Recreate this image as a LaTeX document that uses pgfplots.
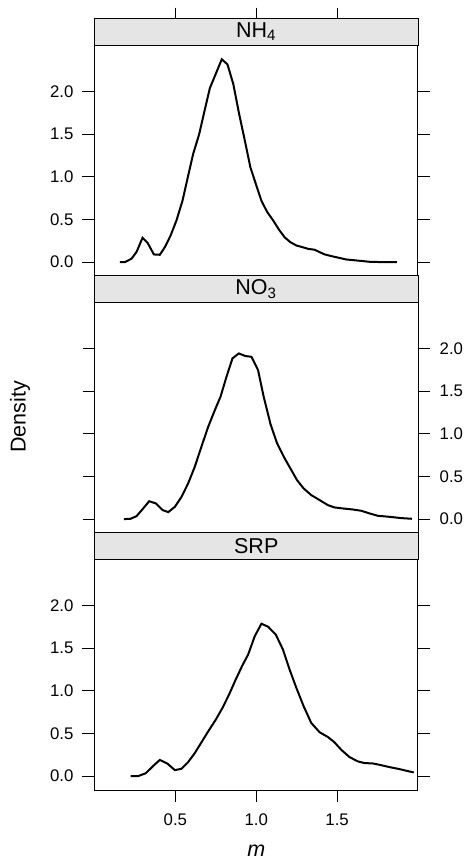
\documentclass[border=0pt]{standalone}
\usepackage{pgfplots}
\pgfplotsset{compat=1.18}
\usepackage{fontspec}
\setmainfont{Liberation Sans}
\definecolor{stripgray}{HTML}{E5E5E5}

\pgfplotsset{
  panel/.style={
    scale only axis, width=161.75pt, height=115.4pt, anchor=south west,
    xmin=0, xmax=2, ymin=-0.163, ymax=2.545,
    ytick={0,0.5,1,1.5,2},
    tick align=outside, major tick length=6pt,
    axis line style={line width=0.5pt},
    every tick/.style={black, line width=0.5pt},
    tick label style={font=\fontsize{8.4}{9.5}\selectfont},
    xticklabel style={yshift=-2.3pt},
    /pgf/number format/fixed, /pgf/number format/fixed zerofill,
    /pgf/number format/precision=1, /pgf/number format/assume math mode=true,
  },
  strip/.style={
    scale only axis, width=161.75pt, height=13.25pt, anchor=south west,
    xmin=0, xmax=2, ymin=0, ymax=1, ytick=\empty, xtick=\empty,
    axis line style={line width=0.5pt},
    axis background/.style={fill=stripgray},
  },
  curve/.style={black, line width=1pt, no marks},
}

\begin{document}
\begin{tikzpicture}
\useasboundingbox (0,0) rectangle (232pt,-429pt);

% ---- NH4 ----
\begin{axis}[panel, at={(47.25pt,-138pt)}, xtick=\empty, ytick pos=both, yticklabel pos=left,
  yticklabel style={xshift=-1pt}]
\addplot[curve] coordinates {
(0.157,0) (0.188,0) (0.229,0.04) (0.26,0.12) (0.297,0.285) (0.328,0.227)
(0.367,0.09) (0.404,0.086) (0.435,0.176) (0.47,0.31) (0.507,0.49) (0.544,0.72)
(0.575,0.98) (0.61,1.27) (0.647,1.50) (0.676,1.74) (0.713,2.04) (0.75,2.21)
(0.787,2.38) (0.822,2.32) (0.858,2.09) (0.894,1.74) (0.929,1.43) (0.964,1.11)
(0.997,0.92) (1.032,0.72) (1.067,0.59) (1.104,0.49) (1.141,0.38) (1.176,0.29)
(1.211,0.234) (1.248,0.195) (1.285,0.176) (1.32,0.156) (1.361,0.145) (1.392,0.117)
(1.423,0.09) (1.475,0.066) (1.556,0.031) (1.638,0.016) (1.70,0.004) (1.78,0) (1.87,0)
};
\end{axis}
\begin{axis}[strip, at={(47.25pt,-22.6pt)}, xtick={0.5,1,1.5}, xticklabels={},
  xtick pos=right, tick align=outside, major tick length=5.5pt,
  every tick/.style={black, line width=0.5pt}]
\node at (rel axis cs:0.5,0.5) {\fontsize{10.75}{12}\selectfont NH\textsubscript{4}};
\end{axis}

% ---- NO3 ----
\begin{axis}[panel, at={(47.25pt,-266.5pt)}, xtick=\empty, ytick pos=both, yticklabel pos=right,
  yticklabel style={xshift=1.3pt},
  ylabel={\fontsize{10.75}{12}\selectfont Density},
  ylabel style={at={(axis description cs:-0.23,0.503)}, anchor=center}]
\addplot[curve] coordinates {
(0.182,0) (0.223,0.004) (0.26,0.035) (0.301,0.125) (0.338,0.21) (0.38,0.184)
(0.421,0.106) (0.456,0.082) (0.497,0.145) (0.538,0.262) (0.579,0.419) (0.62,0.614)
(0.661,0.849) (0.703,1.084) (0.744,1.279) (0.779,1.436) (0.816,1.67) (0.853,1.886)
(0.892,1.944) (0.933,1.913) (0.97,1.905) (1.011,1.749) (1.046,1.436) (1.088,1.115)
(1.129,0.888) (1.17,0.732) (1.211,0.595) (1.252,0.458) (1.293,0.36) (1.34,0.282)
(1.392,0.223) (1.443,0.164) (1.484,0.137) (1.536,0.125) (1.597,0.113) (1.649,0.098)
(1.70,0.067) (1.752,0.039) (1.824,0.027) (1.896,0.012) (1.962,0.004)
};
\end{axis}
\begin{axis}[strip, at={(47.25pt,-151.1pt)}]
\node at (rel axis cs:0.5,0.5) {\fontsize{10.75}{12}\selectfont NO\textsubscript{3}};
\end{axis}

% ---- SRP ----
\begin{axis}[panel, at={(47.25pt,-395pt)}, xtick={0.5,1,1.5}, xtick pos=left,
  ytick pos=both, yticklabel pos=left, yticklabel style={xshift=-1pt},
  xlabel={\fontsize{10.75}{12}\selectfont\itshape m},
  xlabel style={at={(axis description cs:0.5,-0.261)}, anchor=center}]
\addplot[curve] coordinates {
(0.223,0) (0.27,0) (0.318,0.035) (0.363,0.12) (0.404,0.19) (0.452,0.145)
(0.497,0.07) (0.538,0.086) (0.579,0.165) (0.62,0.27) (0.661,0.396) (0.703,0.525)
(0.75,0.663) (0.791,0.8) (0.832,0.957) (0.873,1.133) (0.912,1.29) (0.95,1.427)
(0.991,1.643) (1.032,1.788) (1.073,1.753) (1.12,1.663) (1.165,1.486) (1.206,1.251)
(1.248,1.035) (1.293,0.82) (1.34,0.624) (1.392,0.514) (1.443,0.459) (1.484,0.396)
(1.525,0.31) (1.576,0.224) (1.628,0.173) (1.67,0.153) (1.72,0.149) (1.761,0.133)
(1.824,0.106) (1.886,0.082) (1.937,0.059) (1.974,0.043)
};
\end{axis}
\begin{axis}[strip, at={(47.25pt,-279.6pt)}]
\node at (rel axis cs:0.5,0.5) {\fontsize{10.75}{12}\selectfont SRP};
\end{axis}
\end{tikzpicture}
\end{document}
